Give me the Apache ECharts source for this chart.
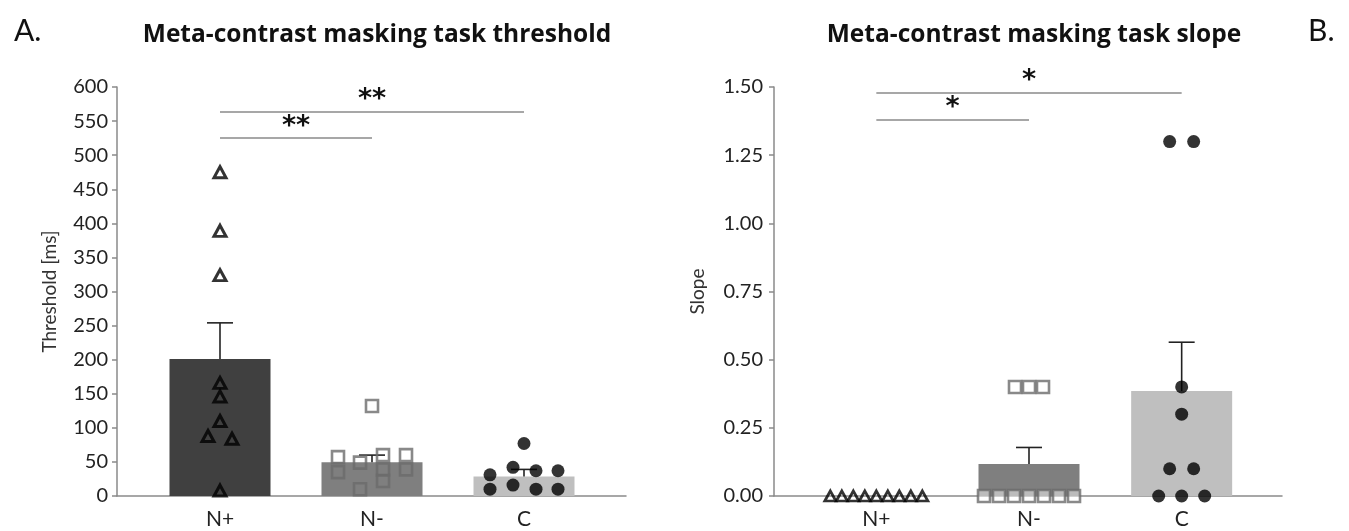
<!DOCTYPE html>
<html>
<head>
<meta charset="utf-8">
<script src="https://cdn.jsdelivr.net/npm/echarts@6/dist/echarts.min.js"></script>
<style>
html,body{margin:0;padding:0;background:#fff;}
#chart{width:1349px;height:531px;}
</style>
</head>
<body>
<div id="chart"></div>
<script>
// ---------- data ----------
const categories = ['N+', 'N-', 'C'];

// Panel A: threshold [ms]
const thrMean = [201, 49.5, 28.5];
const thrSem = [53, 10.5, 10.5];
const thrNplus = [475, 389, 324, 166, 146, 110, 88, 84, 8];
const thrNminus = [132, 57, 35, 49, 10, 60, 39, 22, 60, 39];
const thrC = [77, 31, 10, 42, 16, 37, 10, 37, 10];
const thrTicks = [0, 50, 100, 150, 200, 250, 300, 350, 400, 450, 500, 550, 600];
// significance brackets: [fromCat, toCat, level, label]
const thrSig = [['N+', 'C', 564, '**'], ['N+', 'N-', 525, '**']];

// Panel B: slope
const slopeMean = [0, 0.117, 0.385];
const slopeSem = [0, 0.061, 0.179];
const slopeNplus = [0, 0, 0, 0, 0, 0, 0, 0, 0];
const slopeNminus = [0.4, 0.4, 0.4, 0, 0, 0, 0, 0, 0, 0];
const slopeC = [1.3, 1.3, 0.4, 0.3, 0.1, 0.1, 0, 0, 0];
const slopeTicks = [0, 0.25, 0.5, 0.75, 1.0, 1.25, 1.5];
const slopeSig = [['N+', 'C', 1.479, '*'], ['N+', 'N-', 1.381, '*']];

// ---------- horizontal jitter (pixels, style only) ----------
const jitThrNplus = [0, 0, 0, 0, 0, 0, -12, 12, 0];
const jitThrNminus = [0, -34, -34, -12, -12, 11, 11, 11, 34, 34];
const jitThrC = [0, -34, -34, -11, -11, 12, 12, 34, 34];
const jitSlopeNplus = [-46, -34.5, -23, -11.5, 0, 11.5, 23, 34.5, 46];
const jitSlopeNminus = [-14, 0, 14, -45, -30, -15, 0, 15, 30, 45];
const jitSlopeC = [-12, 12, 0, 0, -12, 12, -23, 0, 23];

// ---------- styles ----------
const FONT = 'Lato';
const barColors = ['#404040', '#7f7f7f', '#bfbfbf'];
const axisGray = '#8a8a8a';
const textCol = '#222';
const squareCol = '#6c6c6c';

const chart = echarts.init(document.getElementById('chart'), null, {renderer: 'canvas'});

function pts(cat, vals, jit) {
  return vals.map((v, i) => ({value: [cat, v], symbolOffset: [jit[i], 0]}));
}

function errSeries(xi, yi, means, sems) {
  return {
    type: 'custom', xAxisIndex: xi, yAxisIndex: yi, z: 3,
    data: means.map((m, i) => [i, m, m + sems[i]]),
    renderItem: function (params, api) {
      if (api.value(2) <= api.value(1)) return null;
      const p0 = api.coord([api.value(0), api.value(1)]);
      const p1 = api.coord([api.value(0), api.value(2)]);
      const hw = 13;
      const st = {stroke: '#222', lineWidth: 1.6};
      return {type: 'group', children: [
        {type: 'line', shape: {x1: p0[0], y1: p0[1], x2: p1[0], y2: p1[1]}, style: st},
        {type: 'line', shape: {x1: p1[0] - hw, y1: p1[1], x2: p1[0] + hw, y2: p1[1]}, style: st}
      ]};
    }
  };
}

function sigSeries(xi, yi, sig) {
  return {
    type: 'line', xAxisIndex: xi, yAxisIndex: yi, data: [], silent: true,
    markLine: {
      symbol: ['none', 'none'], silent: true, animation: false,
      lineStyle: {color: '#8a8a8a', width: 1.6, type: 'solid'},
      label: {show: true, position: 'insideMiddleTop', color: '#111', fontSize: 27,
              fontWeight: 'bold', fontFamily: 'DejaVu Sans', distance: -2},
      data: sig.map(s => [
        {coord: [s[0], s[2]], label: {formatter: s[3]}},
        {coord: [s[1], s[2]]}
      ])
    }
  };
}

const gridTop = 87, gridH = 409;

const option = {
  animation: false,
  backgroundColor: '#fff',
  textStyle: {fontFamily: FONT},
  title: [
    {text: 'Meta-contrast masking task threshold', left: 372, top: 18, textAlign: 'center',
     textStyle: {fontFamily: 'Open Sans', fontWeight: 'bold', fontSize: 24.5, color: '#111'}},
    {text: 'Meta-contrast masking task slope', left: 1029, top: 18, textAlign: 'center',
     textStyle: {fontFamily: 'Open Sans', fontWeight: 'bold', fontSize: 24.5, color: '#111'}},
    {text: 'A.', left: 9, top: 11, textStyle: {fontFamily: FONT, fontWeight: 'normal', fontSize: 30, color: '#111'}},
    {text: 'B.', left: 1303, top: 11, textStyle: {fontFamily: FONT, fontWeight: 'normal', fontSize: 30, color: '#111'}}
  ],
  grid: [
    {left: 117, width: 509, top: gridTop, height: gridH},
    {left: 144, width: 456, top: gridTop, height: gridH},
    {left: 774, width: 508, top: gridTop, height: gridH},
    {left: 800, width: 458, top: gridTop, height: gridH}
  ],
  xAxis: [
    {gridIndex: 0, type: 'value', min: 0, max: 1, axisLine: {show: true, onZero: false, lineStyle: {color: axisGray, width: 1.5}},
     axisTick: {show: false}, axisLabel: {show: false}, splitLine: {show: false}},
    {gridIndex: 1, type: 'category', data: categories, axisLine: {show: false}, axisTick: {show: false},
     axisLabel: {color: textCol, fontSize: 21, fontFamily: FONT, margin: 13}},
    {gridIndex: 2, type: 'value', min: 0, max: 1, axisLine: {show: true, onZero: false, lineStyle: {color: axisGray, width: 1.5}},
     axisTick: {show: false}, axisLabel: {show: false}, splitLine: {show: false}},
    {gridIndex: 3, type: 'category', data: categories, axisLine: {show: false}, axisTick: {show: false},
     axisLabel: {color: textCol, fontSize: 21, fontFamily: FONT, margin: 13}}
  ],
  yAxis: [
    {gridIndex: 0, type: 'value', min: 0, max: 600, interval: 50,
     name: 'Threshold [ms]', nameLocation: 'middle', nameGap: 58, nameRotate: 90,
     nameTextStyle: {color: '#333', fontSize: 19, fontFamily: FONT},
     axisLine: {show: true, lineStyle: {color: axisGray, width: 1.5}},
     axisTick: {show: true, length: 5, lineStyle: {color: axisGray, width: 1.5}},
     axisLabel: {color: textCol, fontSize: 20, fontFamily: FONT, margin: 9,
                 formatter: v => (thrTicks.indexOf(v) >= 0 ? String(v) : '')},
     splitLine: {show: false}},
    {gridIndex: 1, type: 'value', min: 0, max: 600, show: false},
    {gridIndex: 2, type: 'value', min: 0, max: 1.5, interval: 0.25,
     name: 'Slope', nameLocation: 'middle', nameGap: 67, nameRotate: 90,
     nameTextStyle: {color: '#333', fontSize: 19, fontFamily: FONT},
     axisLine: {show: true, lineStyle: {color: axisGray, width: 1.5}},
     axisTick: {show: true, length: 5, lineStyle: {color: axisGray, width: 1.5}},
     axisLabel: {color: textCol, fontSize: 20, fontFamily: FONT, margin: 11,
                 formatter: v => slopeTicks.some(t => Math.abs(t - v) < 1e-9) ? v.toFixed(2) : ''},
     splitLine: {show: false}},
    {gridIndex: 3, type: 'value', min: 0, max: 1.5, show: false}
  ],
  series: [
    // Panel A
    {type: 'bar', xAxisIndex: 1, yAxisIndex: 1, barWidth: 101, z: 2,
     data: thrMean.map((v, i) => ({value: v, itemStyle: {color: barColors[i]}}))},
    errSeries(1, 1, thrMean, thrSem),
    {type: 'scatter', xAxisIndex: 1, yAxisIndex: 1, z: 4, symbol: 'triangle', symbolSize: [12, 11],
     itemStyle: {color: 'rgba(0,0,0,0)', borderColor: '#000', borderWidth: 3},
     data: pts('N+', thrNplus, jitThrNplus)},
    {type: 'scatter', xAxisIndex: 1, yAxisIndex: 1, z: 4, symbol: 'rect', symbolSize: 12,
     itemStyle: {color: 'rgba(0,0,0,0)', borderColor: squareCol, borderWidth: 2.6},
     data: pts('N-', thrNminus, jitThrNminus)},
    {type: 'scatter', xAxisIndex: 1, yAxisIndex: 1, z: 4, symbol: 'circle', symbolSize: 13,
     itemStyle: {color: '#000'},
     data: pts('C', thrC, jitThrC)},
    sigSeries(1, 1, thrSig),
    // Panel B
    {type: 'bar', xAxisIndex: 3, yAxisIndex: 3, barWidth: 101, z: 2,
     data: slopeMean.map((v, i) => ({value: v, itemStyle: {color: barColors[i]}}))},
    errSeries(3, 3, slopeMean, slopeSem),
    {type: 'scatter', xAxisIndex: 3, yAxisIndex: 3, z: 4, symbol: 'triangle', symbolSize: [11, 10],
     itemStyle: {color: 'rgba(0,0,0,0)', borderColor: '#000', borderWidth: 2.8},
     data: pts('N+', slopeNplus, jitSlopeNplus)},
    {type: 'scatter', xAxisIndex: 3, yAxisIndex: 3, z: 4, symbol: 'rect', symbolSize: 12,
     itemStyle: {color: 'rgba(255,255,255,0.6)', borderColor: squareCol, borderWidth: 2.6},
     data: pts('N-', slopeNminus, jitSlopeNminus)},
    {type: 'scatter', xAxisIndex: 3, yAxisIndex: 3, z: 4, symbol: 'circle', symbolSize: 13,
     itemStyle: {color: '#000'},
     data: pts('C', slopeC, jitSlopeC)},
    sigSeries(3, 3, slopeSig)
  ]
};

chart.setOption(option);
</script>
</body>
</html>
